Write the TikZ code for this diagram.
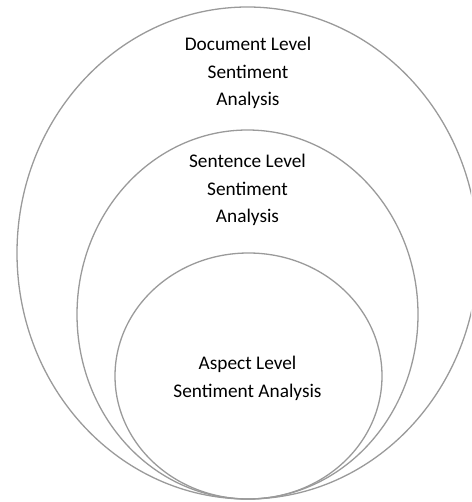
\documentclass[tikz,border=0pt]{standalone}
\usepackage{fontspec}
\setmainfont{Carlito}
\usetikzlibrary{shapes.geometric}
\definecolor{ringgray}{HTML}{9A9A9A}
\tikzset{
  ring/.style={draw=ringgray, line width=1.3pt, ellipse, inner sep=0pt, outer sep=0pt},
  label/.style={align=center, text=black, inner sep=0pt, font=\fontsize{19.3}{27.5}\selectfont}
}
\begin{document}
\begin{tikzpicture}[x=1pt,y=-1pt]
\useasboundingbox (0,0) rectangle (471,502);
\clip (0,0) rectangle (471,502);
\node[ring, minimum width=461pt, minimum height=492pt] (outer) at (247.5,253) {};
\node[ring, minimum width=341pt, minimum height=369pt] (middle) at (247.5,314.5) {};
\node[ring, minimum width=267pt, minimum height=246pt] (inner) at (248.5,376) {};
\node[label] (doc) at (248,73) {Document Level\\Sentiment\\Analysis};
\node[label] (sen) at (247.5,190) {Sentence Level\\Sentiment\\Analysis};
\node[label] (asp) at (247.5,378.5) {Aspect Level\\Sentiment Analysis};
\end{tikzpicture}
\end{document}
